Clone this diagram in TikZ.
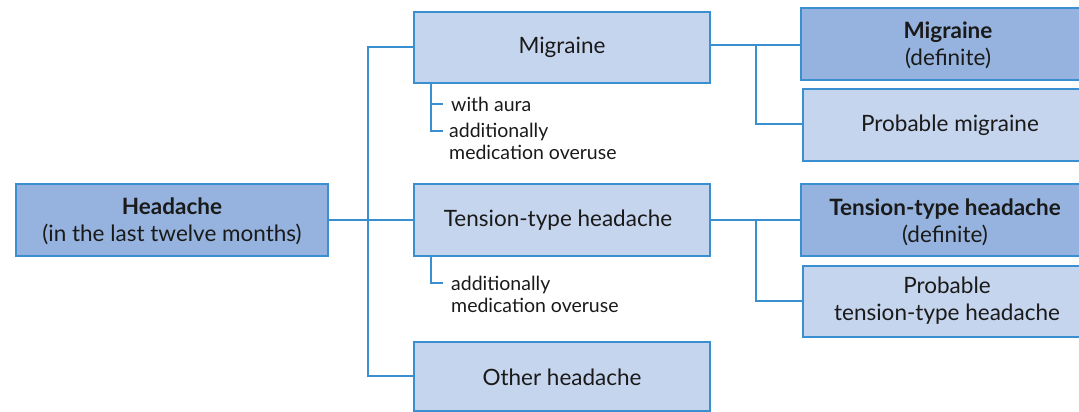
\documentclass[tikz,border=0pt]{standalone}
\usepackage{fontspec}
\setmainfont{Lato}
\definecolor{lineblue}{HTML}{3A8FD0}
\definecolor{darkfill}{HTML}{95B3DE}
\definecolor{lightfill}{HTML}{C6D5EE}
\definecolor{txt}{HTML}{1A1A1A}
\begin{document}
\begin{tikzpicture}[x=1pt,y=-1pt,
  box/.style={draw=lineblue,line width=1.2pt},
  dark/.style={box,fill=darkfill},
  light/.style={box,fill=lightfill},
  lbl/.style={text=txt,align=center,inner sep=0pt,font=\fontsize{22.5}{27}\selectfont},
  conn/.style={draw=lineblue,line width=1.5pt},
  note/.style={anchor=west,inner sep=0pt,text=txt,align=left,font=\fontsize{19.5}{22}\selectfont}]
\useasboundingbox (0,0) rectangle (1079,412);
\begin{scope}
\clip (0,0) rectangle (1079,412);
% boxes
\path[dark] (16,184) rectangle (328,256);
\node[lbl] (head) at (172,221) {\textbf{Headache}\\(in the last twelve months)};
\coordinate (headR) at (328,220);

\path[light] (414,12) rectangle (710,83);
\node[lbl] (mig) at (562,47) {Migraine};
\coordinate (migL) at (414,47);
\coordinate (migR) at (710,45);

\path[light] (414,184) rectangle (710,256);
\node[lbl] (tth) at (558,220) {Tension-type headache};
\coordinate (tthL) at (414,220);
\coordinate (tthR) at (710,220);

\path[light] (414,342) rectangle (710,411);
\node[lbl] (oth) at (562,377) {Other headache};
\coordinate (othL) at (414,376);

\path[dark] (801,8) rectangle (1095,80);
\node[lbl] (migdef) at (948,45) {\textbf{Migraine}\\(definite)};
\coordinate (migdefL) at (801,45);

\path[light] (803,89) rectangle (1097,161);
\node[lbl] (migprob) at (950,125) {Probable migraine};
\coordinate (migprobL) at (803,124);

\path[dark] (801,184) rectangle (1092,256);
\node[lbl] (tthdef) at (945,222) {\textbf{Tension-type headache}\\(definite)};
\coordinate (tthdefL) at (801,220);

\path[light] (803,266) rectangle (1092,337);
\node[lbl] (tthprob) at (947,301) {Probable\\tension-type headache};
\coordinate (tthprobL) at (803,301);
\end{scope}

% trunk
\coordinate (trunkTop) at (368,47);
\coordinate (trunkBot) at (368,376);
\draw[conn] (headR) -- (368,220);
\draw[conn] (migL) -- (trunkTop) -- (trunkBot) -- (othL);
\draw[conn] (368,220) -- (tthL);

% migraine branch
\draw[conn] (migR) -- (migdefL);
\draw[conn] (756,45) |- (migprobL);
% tth branch
\draw[conn] (tthR) -- (tthdefL);
\draw[conn] (756,220) |- (tthprobL);

% notes
\node[note] (aura) at (451,104) {with aura};
\node[note] (mmo) at (449,141) {additionally\\medication overuse};
\draw[conn,line width=1.2pt] (431,83) -- (431,131) -- (443,131);
\draw[conn,line width=1.2pt] (431,104) -- (443,104);
\node[note] (tmo) at (451,294) {additionally\\medication overuse};
\draw[conn,line width=1.2pt] (431,256) |- (443,283);
\end{tikzpicture}
\end{document}
